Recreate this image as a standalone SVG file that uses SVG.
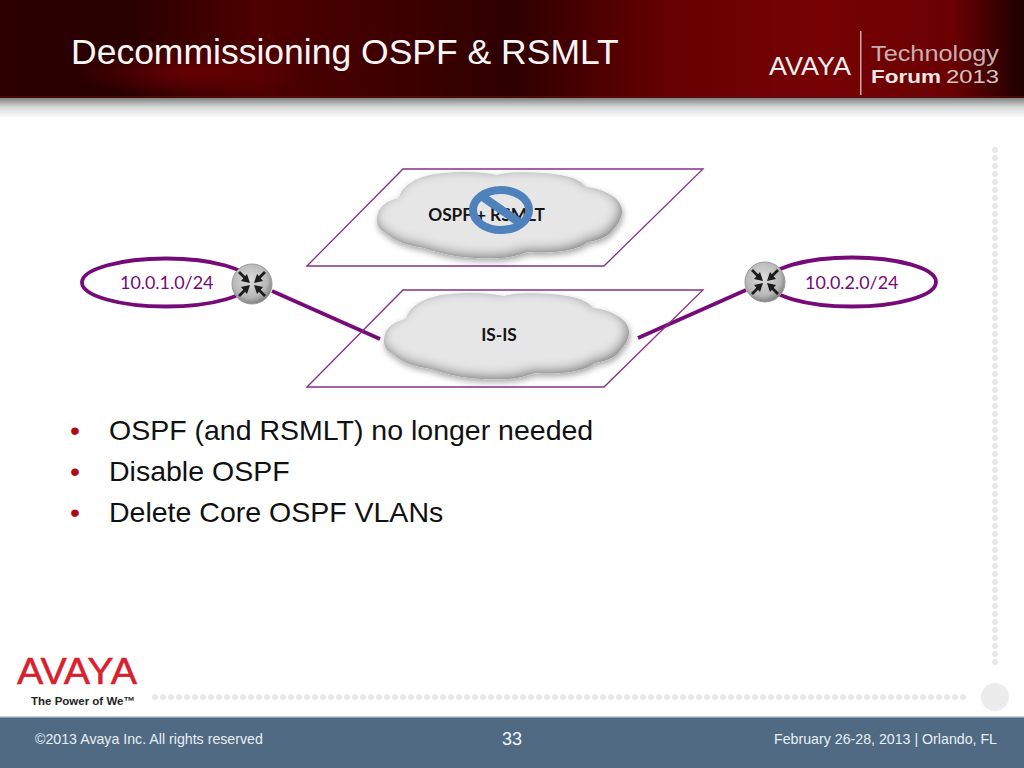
<svg xmlns="http://www.w3.org/2000/svg" width="1024" height="768" viewBox="0 0 1024 768">
<style>
.s{font-family:"Liberation Sans",Arial,sans-serif}
.l{font-family:Lato,"Noto Sans",sans-serif}
.net{font-size:17.9px;fill:#760a78}
.cl{font-size:17.300px;font-weight:700;fill:#141414;text-anchor:middle}
.plane{fill:none;stroke:#84308c;stroke-width:1.3}
.link{fill:none;stroke:#760a78;stroke-width:3.6}
.b{font-size:28.500px;fill:#111}
.dot{fill:#b00a14;font-size:28.500px}
.f{font-size:14.200px;fill:#e8eff5}
.arr{fill:none;stroke:#1c1c1c;stroke-width:2.8}
.head{fill:#1c1c1c}
</style>
<defs>
<linearGradient id="hdr" x1="0" x2="1" y1="0" y2="0">
<stop offset="0" stop-color="#2c0000"/><stop offset=".12" stop-color="#280000"/><stop offset=".25" stop-color="#4e0000"/><stop offset=".4" stop-color="#3c0000"/><stop offset=".5" stop-color="#2e0000"/><stop offset=".65" stop-color="#660000"/><stop offset=".8" stop-color="#760204"/><stop offset=".93" stop-color="#6a0002"/><stop offset="1" stop-color="#1e0000"/>
</linearGradient>
<radialGradient id="glow" cx=".5" cy=".5" r=".5"><stop offset="0" stop-color="#760004" stop-opacity=".75"/><stop offset="1" stop-color="#760004" stop-opacity="0"/></radialGradient>
<linearGradient id="shade" x1="0" x2="0" y1="0" y2="1"><stop offset="0" stop-color="#7e8280"/><stop offset=".45" stop-color="#d6d8d8"/><stop offset="1" stop-color="#fff"/></linearGradient>
<radialGradient id="rg" cx=".45" cy=".4" r=".62"><stop offset="0" stop-color="#dcdcdc"/><stop offset=".7" stop-color="#b8b8b8"/><stop offset="1" stop-color="#7a7a7a"/></radialGradient>
<filter id="cf" x="-10%" y="-15%" width="120%" height="135%">
<feGaussianBlur in="SourceAlpha" stdDeviation="6" result="b"/>
<feOffset in="b" dx="-2" dy="-3" result="o"/>
<feComposite in="SourceAlpha" in2="o" operator="out" result="inner"/>
<feFlood flood-color="#5e5e5e" flood-opacity=".95"/>
<feComposite in2="inner" operator="in" result="edge"/>
<feGaussianBlur in="SourceAlpha" stdDeviation="3"/>
<feOffset dx="1" dy="3" result="os"/>
<feFlood flood-color="#000" flood-opacity=".35"/>
<feComposite in2="os" operator="in" result="shadow"/>
<feMerge><feMergeNode in="shadow"/><feMergeNode in="SourceGraphic"/><feMergeNode in="edge"/></feMerge>
</filter>
<path id="cloud" d="M377 220C377 208 385 201 399 198C402 184 420 175 444 173C462 171 482 172 497 175C512 171 540 172 560 175C574 177 582 182 586 187C604 189 622 198 622 211C622 220 616 226 612 231C606 238 598 240 588 242C578 250 556 254 528 252C516 256 504 259 490 258C470 259 446 256 424 248C408 246 392 240 386 233C380 230 377 226 377 220Z"/>
<g id="rt">
<circle r="20" fill="url(#rg)" stroke="#9a9a9a" stroke-width="1"/>
<path class="arr" d="M-13-12L-5-4M13-12L5-4M-13 12L-5 4M13 12L5 4"/>
<path class="head" d="M-2-1L-11-3L-5-10ZM2-1L11-3L5-10ZM-2 1L-11 3L-5 10ZM2 1L11 3L5 10Z"/>
</g>
</defs>

<g id="header">
<rect x="0" y="98" width="1024" height="20" fill="url(#shade)"/>
<rect x="0" y="0" width="1024" height="98" fill="url(#hdr)"/>
<ellipse cx="190" cy="72" rx="120" ry="26" fill="url(#glow)"/>
<rect x="0" y="96" width="1024" height="2" fill="#5a1010" opacity=".6"/>
<text class="s" x="71" y="64" font-size="35.500" fill="#fbf6f6">Decommissioning OSPF &amp; RSMLT</text>
</g>

<g id="event-logo">
<text class="s" x="769" y="75" font-size="25" fill="#f2eeee" textLength="82" lengthAdjust="spacingAndGlyphs">AVAYA</text>
<rect x="860" y="31" width="1.5" height="64" fill="#c9a9a9"/>
<text class="s" x="871" y="61" font-size="22" fill="#c9b0b0" textLength="128" lengthAdjust="spacingAndGlyphs">Technology</text>
<text class="s" x="871" y="83" font-size="18.500" font-weight="700" fill="#f0e6e6" textLength="70" lengthAdjust="spacingAndGlyphs">Forum</text>
<text class="s" x="946" y="83" font-size="18.500" fill="#d8c6c6" textLength="53" lengthAdjust="spacingAndGlyphs">2013</text>
</g>

<g id="connectors">
<path class="link" d="M272 291L380 339"/>
<path class="link" d="M638 338L746 290"/>
</g>

<g id="plane-ospf"><path class="plane" d="M307 266L403 169H703L604 266Z"/></g>
<g id="plane-isis"><path class="plane" d="M307 387L403 290H703L604 387Z"/></g>

<g id="cloud-ospf">
<use href="#cloud" fill="#e6e6e6" filter="url(#cf)"/>
<text class="l cl" x="486.500" y="221">OSPF + RSMLT</text>
</g>
<g id="no-sign">
<ellipse cx="501" cy="210" rx="28" ry="20" fill="none" stroke="#4f81bd" stroke-width="8"/>
<path d="M480 195L523 225" fill="none" stroke="#4f81bd" stroke-width="8.500"/>
</g>
<g id="cloud-isis">
<use href="#cloud" transform="translate(7 121)" fill="#e6e6e6" filter="url(#cf)"/>
<text class="l cl" x="499" y="341">IS-IS</text>
</g>

<g id="subnet-left">
<ellipse cx="166" cy="282.500" rx="84" ry="24" fill="none" stroke="#760a78" stroke-width="3.800"/>
<text class="l net" x="120" y="289">10.0.1.0/24</text>
</g>
<g id="subnet-right">
<ellipse cx="852" cy="282" rx="84" ry="24.500" fill="none" stroke="#760a78" stroke-width="3.800"/>
<text class="l net" x="805" y="289">10.0.2.0/24</text>
</g>
<g id="router-left"><use href="#rt" x="252" y="284"/></g>
<g id="router-right"><use href="#rt" x="765" y="282"/></g>

<g id="bullets">
<text class="s dot" x="70" y="440">•</text><text class="s b" x="109" y="440">OSPF (and RSMLT) no longer needed</text>
<text class="s dot" x="70" y="481">•</text><text class="s b" x="109" y="481">Disable OSPF</text>
<text class="s dot" x="70" y="522">•</text><text class="s b" x="109" y="522">Delete Core OSPF VLANs</text>
</g>

<g id="decor">
<path d="M155 697H970" fill="none" stroke="#e8e8e8" stroke-width="6" stroke-linecap="round" stroke-dasharray="0 8"/>
<path d="M995 150V668" fill="none" stroke="#e8e8e8" stroke-width="6" stroke-linecap="round" stroke-dasharray="0 8"/>
<circle cx="995" cy="697" r="14" fill="#ececec"/>
</g>

<g id="avaya-logo">
<text class="s" x="17" y="684" font-size="36" fill="#d8202f" textLength="120" lengthAdjust="spacingAndGlyphs" stroke="#d8202f" stroke-width=".5">AVAYA</text>
<text class="s" x="31" y="705" font-size="11.500" font-weight="700" fill="#222">The Power of We™</text>
</g>

<g id="footer">
<rect x="0" y="717" width="1024" height="51" fill="#4f6a82"/>
<rect x="0" y="716" width="1024" height="1.500" fill="#c8d6e2"/>
<text class="s f" x="35" y="744">©2013 Avaya Inc. All rights reserved</text>
<text class="s" x="512" y="745" font-size="18" fill="#f2f6fa" text-anchor="middle">33</text>
<text class="s f" x="997" y="744" text-anchor="end">February 26-28, 2013 | Orlando, FL</text>
</g>
</svg>
